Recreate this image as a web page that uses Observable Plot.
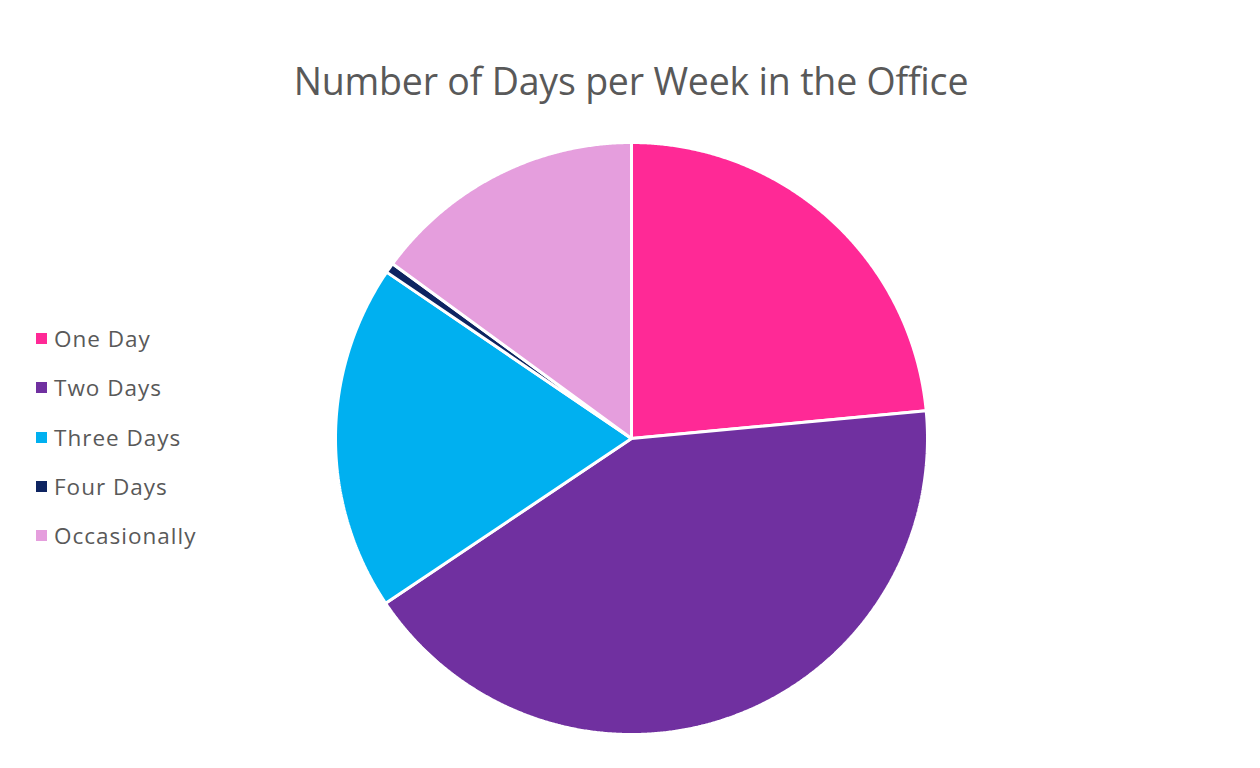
<!DOCTYPE html>
<html>
<head>
<meta charset="utf-8">
<script src="https://cdn.jsdelivr.net/npm/d3@7"></script>
<script src="https://cdn.jsdelivr.net/npm/@observablehq/plot@0.6"></script>
<style>
  html, body { margin: 0; padding: 0; background: #fff; }
  #wrap { position: relative; width: 1260px; height: 768px; overflow: hidden; font-family: "Open Sans", "Liberation Sans", sans-serif; }
  #title { position: absolute; left: 0; width: 1262px; top: 55px; text-align: center; font-size: 37.5px; color: #595959; letter-spacing: -0.2px; }
  #legend { position: absolute; left: 36px; top: 314px; }
  .item { display: flex; align-items: center; height: 49.3px; font-size: 22.5px; letter-spacing: 1px; color: #595959; }
  .sw { width: 11px; height: 11px; margin-right: 7px; }
  #chart { position: absolute; left: 0; top: 0; }
</style>
</head>
<body>
<div id="wrap">
  <div id="chart"></div>
  <div id="title"></div>
  <div id="legend"></div>
</div>
<script>
const titleText = "Number of Days per Week in the Office";
const categories = ["One Day", "Two Days", "Three Days", "Four Days", "Occasionally"];
const values = [23.5, 42.1, 18.9, 0.55, 14.95];
const colors = ["#FF2996", "#7030A0", "#00B0F0", "#0E2461", "#E59EDD"];

document.getElementById("title").textContent = titleText;

const legend = document.getElementById("legend");
categories.forEach((c, i) => {
  const it = document.createElement("div");
  it.className = "item";
  const sw = document.createElement("span");
  sw.className = "sw";
  sw.style.background = colors[i];
  const t = document.createElement("span");
  t.textContent = c;
  it.appendChild(sw); it.appendChild(t);
  legend.appendChild(it);
});

// Build slice polygons from the data via d3.pie (angles clockwise from 12 o'clock)
const arcs = d3.pie().sort(null).value(d => d.value)(categories.map((c, i) => ({name: c, value: values[i]})));
const rows = [];
arcs.forEach(a => {
  const n = Math.max(2, Math.ceil((a.endAngle - a.startAngle) / 0.005));
  rows.push({name: a.data.name, x: 0, y: 0});
  for (let k = 0; k <= n; k++) {
    const t = a.startAngle + (a.endAngle - a.startAngle) * k / n;
    rows.push({name: a.data.name, x: Math.sin(t), y: Math.cos(t)});
  }
});

const plot = Plot.plot({
  width: 1260,
  height: 768,
  marginLeft: 335,
  marginRight: 333,
  marginTop: 142,
  marginBottom: 34,
  x: {domain: [-1, 1], axis: null},
  y: {domain: [-1, 1], axis: null},
  color: {domain: categories, range: colors},
  marks: [
    Plot.line(rows, {x: "x", y: "y", z: "name", fill: "name", stroke: "white", strokeWidth: 3, strokeLinejoin: "miter", curve: "linear-closed"})
  ]
});
document.getElementById("chart").appendChild(plot);
</script>
</body>
</html>
